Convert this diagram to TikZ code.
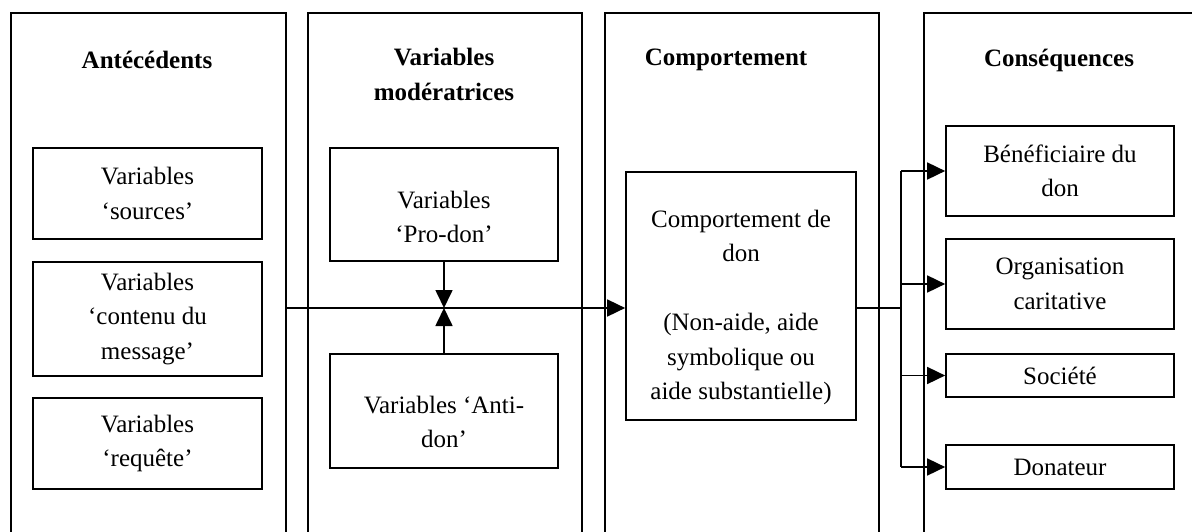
\documentclass[tikz,border=0pt]{standalone}
\usepackage{fontspec}
\setmainfont{Liberation Serif}
\usetikzlibrary{arrows.meta}
\begin{document}
\begin{tikzpicture}[x=1pt,y=-1pt,line width=1.7pt,
  txt/.style={font=\fontsize{25}{34.5}\selectfont, align=center, inner sep=0pt},
  ttl/.style={font=\fontsize{25}{35}\selectfont\bfseries, align=center, inner sep=0pt},
  col/.style={draw, minimum width=#1, minimum height=580pt, anchor=north west, inner sep=0pt},
  bx/.style={draw, txt, minimum width=229pt, minimum height=#1},
  arr/.style={-{Triangle[length=18pt,width=17pt]}}]
\useasboundingbox (0,0) rectangle (1192,532);
\fill[white] (0,0) rectangle (1192,532);
\clip (0,0) rectangle (1192,532);
% columns
\node[col=275pt] (c1) at (10,12) {};
\node[col=274pt] (c2) at (307,12) {};
\node[col=274pt] (c3) at (604,12) {};
\node[col=300pt] (c4) at (923,12) {};
% titles
\node[ttl] (t1) at (147,60) {Antécédents};
\node[ttl] (t2) at (444,74.5) {Variables\\modératrices};
\node[ttl] (t3) at (726,60) {Comportement};
\node[ttl] (t4) at (1059,60) {Conséquences};
% antecedents
\node[bx=91pt] (src) at (147.5,193.5) {Variables\\‘sources’};
\node[bx=114pt] (cont) at (147.5,319) {Variables\\‘contenu du\\message’};
\node[bx=91pt] (req) at (147.5,443.5) {Variables\\‘requête’};
% moderators
\node[bx=113pt, minimum width=228pt] (pro) at (444,204.5) {};
\node[txt] (protxt) at (444,217) {Variables\\‘Pro-don’};
\node[bx=114pt, minimum width=228pt] (anti) at (444,411) {};
\node[txt] (antitxt) at (444,422) {Variables ‘Anti-\\don’};
% behaviour
\node[bx=248pt, minimum width=230pt] (comp) at (741,296) {};
\node[txt] (comptxt) at (741,307.5) {Comportement de\\don\\[34.5pt](Non-aide, aide\\symbolique ou\\aide substantielle)};
% consequences
\node[bx=90pt, minimum width=228pt] (ben) at (1060,171) {Bénéficiaire du\\don};
\node[bx=90pt, minimum width=228pt] (org) at (1060,284) {Organisation\\caritative};
\node[bx=43pt, minimum width=228pt] (soc) at (1060,375.5) {Société};
\node[bx=44pt, minimum width=228pt] (dona) at (1060,467) {Donateur};
% connectors
\coordinate (j) at (444,308);
\coordinate (k) at (901,308);
\draw[arr] (j -| c1.east) -- (j -| comp.west);
\draw[arr] (pro.south) -- (j);
\draw[arr] (anti.north) -- (j);
\draw (j -| comp.east) -- (k);
\draw (k |- ben) -- (k |- dona);
\draw[arr] (k |- ben) -- (ben.west);
\draw[arr] (k |- org) -- (org.west);
\draw[arr] (k |- soc) -- (soc.west);
\draw[arr] (k |- dona) -- (dona.west);
\end{tikzpicture}
\end{document}
